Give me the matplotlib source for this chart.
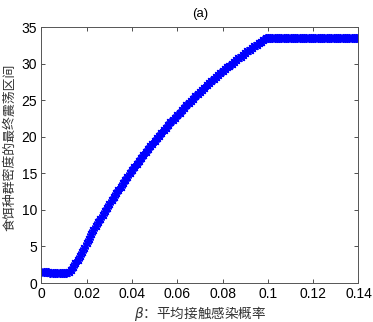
import matplotlib.pyplot as plt
import numpy as np

# beta values, step 0.001 from 0 to 0.14
beta = np.round(np.arange(0, 0.1405, 0.001), 3)

rise = [1.45, 1.45, 1.45, 1.45, 1.42, 1.40, 1.38, 1.35, 1.33, 1.32,
        1.33, 1.40, 1.55, 1.80, 2.20, 2.70, 3.15, 3.65, 4.25, 4.85,
        5.45, 6.05, 6.65, 7.25, 7.77, 8.29, 8.80, 9.31, 9.81, 10.31,
        10.80, 11.29, 11.77, 12.25, 12.72, 13.19, 13.65, 14.10, 14.55, 14.99,
        15.42, 15.85, 16.27, 16.68, 17.09, 17.49, 17.89, 18.28, 18.67, 19.05,
        19.43, 19.80, 20.17, 20.53, 20.89, 21.25, 21.60, 21.95, 22.29, 22.63,
        22.97, 23.30, 23.63, 23.96, 24.28, 24.60, 24.91, 25.22, 25.53, 25.83,
        26.13, 26.43, 26.72, 27.01, 27.30, 27.58, 27.86, 28.14, 28.41, 28.68,
        28.95, 29.21, 29.47, 29.73, 29.98, 30.23, 30.48, 30.72, 30.96, 31.20,
        31.44, 31.67, 31.90, 32.13, 32.36, 32.58, 32.80, 33.02, 33.24, 33.45]
plateau = [33.55] * 41
interval = rise + plateau

xticks = [0, 0.02, 0.04, 0.06, 0.08, 0.1, 0.12, 0.14]
xticklabels = ["0", "0.02", "0.04", "0.06", "0.08", "0.1", "0.12", "0.14"]
yticks = [0, 5, 10, 15, 20, 25, 30, 35]

plt.rcParams['font.family'] = ['Liberation Sans', 'Noto Sans CJK SC', 'DejaVu Sans']

fig = plt.figure(figsize=(3.73, 3.22), dpi=100)
ax = fig.add_axes([0.111, 0.121, 0.850, 0.795])

ax.plot(beta, interval, linestyle='none', marker=(8, 2, 0), markersize=6.5,
        markeredgewidth=1.2, color=(0, 0, 1))

ax.set_xlim(0, 0.14)
ax.set_ylim(0, 35)
ax.set_xticks(xticks)
ax.set_xticklabels(xticklabels)
ax.set_yticks(yticks)
ax.tick_params(direction='in', length=3, width=0.6, labelsize=10,
               top=True, right=True, colors='#333333', labelcolor='black', pad=3)
for s in ax.spines.values():
    s.set_color('#555555')
    s.set_linewidth(0.7)

ax.set_title("(a)", fontsize=9.5, pad=7)
ax.set_ylabel("食饵种群密度的最终震荡区间", fontsize=9.3,
              family=['Noto Sans CJK SC', 'DejaVu Sans'], color='#333333', labelpad=2)
ax.yaxis.set_label_coords(-0.08, 0.53)
ax.set_xlabel("$\\beta$：平均接触感染概率", fontsize=9.8,
              family=['Noto Sans CJK SC', 'DejaVu Sans'], color='#333333', labelpad=2)

fig.savefig("out.png", dpi=100)
